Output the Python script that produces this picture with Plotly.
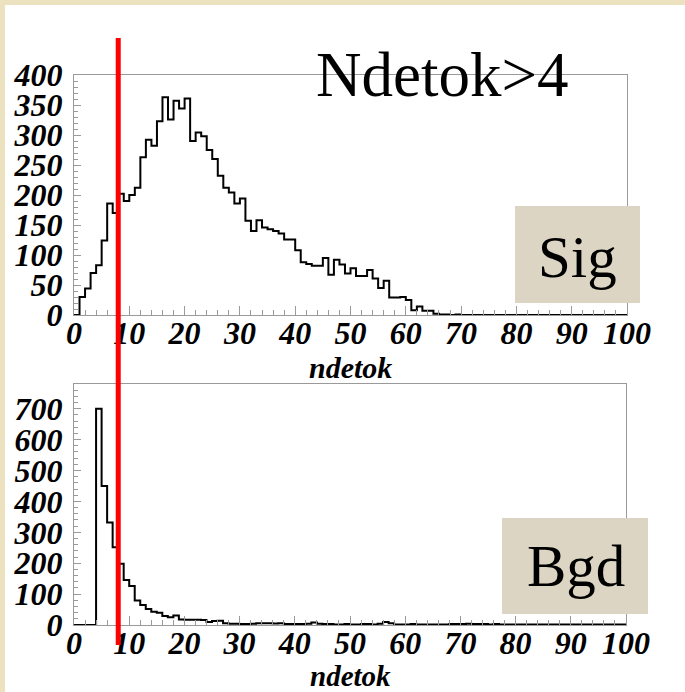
import numpy as np
import plotly.graph_objects as go

# ndetok histograms, 100 bins of width 1 from 0 to 100
sig_counts = [
    0, 30, 44, 70, 83, 124, 186, 170, 202, 190,
    200, 212, 263, 292, 282, 323, 363, 326, 357, 344,
    361, 290, 304, 298, 275, 260, 232, 212, 204, 186,
    194, 157, 140, 158, 146, 143, 140, 136, 126, 126,
    108, 88, 85, 82, 82, 95, 67, 92, 84, 69,
    78, 65, 65, 75, 61, 45, 57, 29, 29, 30,
    25, 8, 14, 7, 7, 2, 1, 1, 0, 1,
    0, 0, 0, 0, 0, 0, 0, 0, 0, 0,
    0, 0, 0, 0, 0, 0, 0, 0, 0, 0,
    0, 0, 0, 0, 0, 0, 0, 0, 0, 0,
]
bgd_counts = [
    0, 0, 0, 0, 700, 450, 332, 252, 198, 146,
    126, 79, 65, 52, 43, 40, 29, 25, 31, 18,
    17, 17, 17, 16, 10, 13, 14, 6, 4, 4,
    3, 3, 4, 6, 6, 6, 5, 6, 3, 3,
    3, 3, 4, 8, 4, 3, 3, 2, 2, 3,
    2, 2, 3, 3, 2, 4, 10, 6, 2, 2,
    2, 3, 2, 2, 2, 2, 2, 2, 3, 3,
    3, 4, 3, 3, 3, 2, 3, 2, 2, 2,
    2, 2, 2, 2, 2, 2, 2, 2, 2, 2,
    2, 2, 2, 2, 2, 2, 2, 2, 2, 2,
]
bin_edges = np.arange(0, 101, 1)
cut_value = 8
x_ticks = list(range(0, 101, 10))

W, H = 685, 692


def px(x):
    return x / W


def py(y):
    return 1 - y / H


SERIF = "Liberation Serif"
tick_font = dict(family=SERIF, size=32, color="black", weight="bold", style="italic")
FRAME = "#9a9a9a"


def step_trace(counts, xa, ya):
    return go.Scatter(
        x=bin_edges,
        y=list(counts) + [counts[-1]],
        mode="lines",
        line=dict(shape="hv", color="black", width=2),
        xaxis=xa,
        yaxis=ya,
        hoverinfo="skip",
        showlegend=False,
    )


fig = go.Figure()
fig.add_trace(step_trace(sig_counts, "x", "y"))
fig.add_trace(step_trace(bgd_counts, "x2", "y2"))

common_x = dict(
    range=[0, 100],
    tickvals=x_ticks,
    ticks="inside",
    ticklen=9,
    tickcolor=FRAME,
    tickwidth=1,
    minor=dict(dtick=2, tick0=0, ticks="inside", ticklen=5, tickcolor=FRAME),
    showline=True,
    mirror=True,
    linecolor=FRAME,
    linewidth=1,
    showgrid=False,
    zeroline=False,
    tickfont=tick_font,
    ticklabelstandoff=-10,
    fixedrange=True,
)
common_y = dict(
    ticks="inside",
    ticklen=7,
    tickcolor=FRAME,
    tickwidth=1,
    showline=True,
    mirror=True,
    linecolor=FRAME,
    linewidth=1,
    showgrid=False,
    zeroline=False,
    tickfont=tick_font,
    ticklabelstandoff=4,
    fixedrange=True,
)

fig.update_layout(
    width=W,
    height=H,
    margin=dict(l=0, r=0, t=0, b=0, autoexpand=False),
    paper_bgcolor="#ece2bf",
    plot_bgcolor="white",
    xaxis=dict(domain=[px(74), px(627)], anchor="y", **common_x),
    yaxis=dict(domain=[py(315), py(75)], anchor="x", range=[0, 400], dtick=50,
               minor=dict(dtick=10, ticks="inside", ticklen=4, tickcolor=FRAME), **common_y),
    xaxis2=dict(domain=[px(74), px(626)], anchor="y2", **common_x),
    yaxis2=dict(domain=[py(625), py(384)], anchor="x2", range=[0, 780], dtick=100,
                minor=dict(dtick=20, ticks="inside", ticklen=4, tickcolor=FRAME), **common_y),
)

shapes = [
    # white slide panel
    dict(type="rect", xref="paper", yref="paper", x0=px(5), x1=1, y0=0, y1=py(5),
         fillcolor="white", line=dict(width=0), layer="below"),
    # label boxes
    dict(type="rect", xref="paper", yref="paper", x0=px(515), x1=px(640), y0=py(303), y1=py(206),
         fillcolor="#ddd5c3", line=dict(width=0), layer="above"),
    dict(type="rect", xref="paper", yref="paper", x0=px(502), x1=px(648), y0=py(614), y1=py(518),
         fillcolor="#ddd5c3", line=dict(width=0), layer="above"),
    # cut line
    dict(type="line", xref="x", yref="paper", x0=cut_value, x1=cut_value, y0=py(645), y1=py(38),
         line=dict(color="#ff0000", width=5), layer="above"),
]
fig.update_layout(shapes=shapes)

annotations = [
    dict(text="Ndetok>4", x=px(442), y=py(75), font=dict(family=SERIF, size=63, color="black")),
    dict(text="Sig", x=px(577), y=py(257), font=dict(family=SERIF, size=59, color="black")),
    dict(text="Bgd", x=px(576), y=py(566), font=dict(family=SERIF, size=59, color="black")),
    dict(text="ndetok", x=px(350), y=py(367),
         font=dict(family=SERIF, size=30, color="black", weight="bold", style="italic")),
    dict(text="ndetok", x=px(350), y=py(676),
         font=dict(family=SERIF, size=29, color="black", weight="bold", style="italic")),
]
for a in annotations:
    a.update(xref="paper", yref="paper", xanchor="center", yanchor="middle", showarrow=False)
fig.update_layout(annotations=annotations)

fig.write_html("out.html")
